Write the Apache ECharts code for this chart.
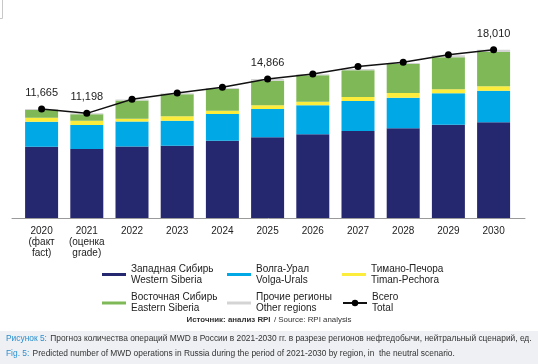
<!DOCTYPE html>
<html><head><meta charset="utf-8">
<script src="https://cdn.jsdelivr.net/npm/echarts@6/dist/echarts.min.js"></script>
<style>html,body{margin:0;padding:0;background:#fff}#c{width:538px;height:364px}</style>
</head><body><div id="c"></div>
<script>
const categories = ['2020\n(факт\nfact)', '2021\n(оценка\ngrade)', '2022', '2023', '2024', '2025', '2026', '2027', '2028', '2029', '2030'];
const westernSiberia = [7630, 7385, 7650, 7740, 8275, 8635, 8960, 9315, 9600, 9990, 10245];
const volgaUrals = [2675, 2570, 2675, 2675, 2855, 3030, 3105, 3210, 3275, 3360, 3385];
const timanPechora = [430, 460, 290, 470, 355, 390, 385, 430, 500, 430, 470];
const easternSiberia = [820, 676, 1960, 2355, 2320, 2620, 2825, 2855, 3105, 3425, 3670];
const otherRegions = [110, 107, 107, 107, 107, 191, 107, 140, 107, 215, 240];
const total = [11665, 11198, 12700, 13380, 13990, 14866, 15415, 16200, 16665, 17480, 18010];
const labeledPoints = [0, 1, 5, 10];

const names = {
  ws: 'Западная Сибирь\nWestern Siberia',
  vu: 'Волга-Урал\nVolga-Urals',
  tp: 'Тимано-Печора\nTiman-Pechora',
  es: 'Восточная Сибирь\nEastern Siberia',
  or: 'Прочие регионы\nOther regions',
  tt: 'Всего\nTotal'
};
const FONT = '"Liberation Sans", Arial, sans-serif';
const chart = echarts.init(document.getElementById('c'), null, {renderer: 'canvas'});

function bar(name, data, color) {
  return {name, type: 'bar', stack: 's', data, barWidth: 33,
    itemStyle: {color}, emphasis: {disabled: true}, xAxisIndex: 0, yAxisIndex: 0};
}
function leg(name, left, top, isLine) {
  return {data: [isLine ? {name} : {name, icon: 'rect'}], left, top,
    itemWidth: 24, itemHeight: isLine ? 8 : 3, selectedMode: false,
    textStyle: {fontSize: 10, lineHeight: 11, color: '#222', fontFamily: FONT}};
}
const gridTop = 218 - 20000 * 0.009345;
chart.setOption({
  animation: false,
  grid: [
    {left: 19, right: 21.8, top: gridTop, bottom: 146},
    {left: 12, right: 13, top: gridTop, bottom: 146}
  ],
  xAxis: [
    {type: 'category', data: categories, gridIndex: 0,
     axisLine: {show: false}, axisTick: {show: false},
     axisLabel: {margin: 8, fontSize: 10, lineHeight: 11, color: '#222', fontFamily: FONT, interval: 0}},
    {type: 'value', gridIndex: 1, min: 0, max: 1,
     axisLine: {show: true, lineStyle: {color: '#9a9a9a', width: 1}},
     axisTick: {show: false}, axisLabel: {show: false}, splitLine: {show: false}}
  ],
  yAxis: [
    {type: 'value', gridIndex: 0, min: 0, max: 20000, show: false},
    {type: 'value', gridIndex: 1, min: 0, max: 1, show: false}
  ],
  legend: [
    leg(names.ws, 97, 258.5), leg(names.vu, 222, 258.5), leg(names.tp, 337, 258.5),
    leg(names.es, 97, 287), leg(names.or, 222, 287), leg(names.tt, 337, 287, true)
  ],
  series: [
    bar(names.ws, westernSiberia, '#25276f'),
    bar(names.vu, volgaUrals, '#00a9e5'),
    bar(names.tp, timanPechora, '#fcec3c'),
    bar(names.es, easternSiberia, '#7fb957'),
    bar(names.or, otherRegions, '#d4d4d4'),
    {name: names.tt, type: 'line', z: 5,
     data: total.map((v, i) => ({value: v, label: {show: labeledPoints.includes(i)}})),
     symbol: 'circle', symbolSize: 7,
     lineStyle: {color: '#111', width: 1.5}, itemStyle: {color: '#000'},
     label: {position: 'top', distance: 7, fontSize: 11, color: '#222', fontFamily: FONT,
       formatter: p => p.value.toLocaleString('en-US')},
     emphasis: {disabled: true}}
  ],
  graphic: [
    {type: 'polyline', shape: {points: [[0, 18.5], [2.5, 18.5], [2.5, 0]]}, style: {stroke: '#c8c8c8', fill: null, lineWidth: 1}},
    {type: 'text', left: 'center', top: 314, style: {
      text: '{b|Источник: анализ RPI} {n|/ Source: RPI analysis}',
      rich: {b: {fontSize: 7.9, fontWeight: 'bold', fill: '#333', fontFamily: FONT},
             n: {fontSize: 7.9, fill: '#333', fontFamily: FONT}}}},
    {type: 'rect', shape: {x: 0, y: 331, width: 538, height: 33}, style: {fill: '#eef0f3'}},
    {type: 'text', left: 6, top: 332.5, style: {
      text: '{a|Рисунок 5:} {t|Прогноз количества операций MWD в России в 2021-2030 гг. в разрезе регионов нефтедобычи, нейтральный сценарий, ед.}\n{a|Fig. 5:} {t|Predicted number of MWD operations in Russia during the period of 2021-2030 by region, in  the neutral scenario.}',
      rich: {a: {fontSize: 8.4, fill: '#2a8fd0', fontFamily: FONT, lineHeight: 15},
             t: {fontSize: 8.4, fill: '#333', fontFamily: FONT, lineHeight: 15}}}}
  ]
});
</script></body></html>
